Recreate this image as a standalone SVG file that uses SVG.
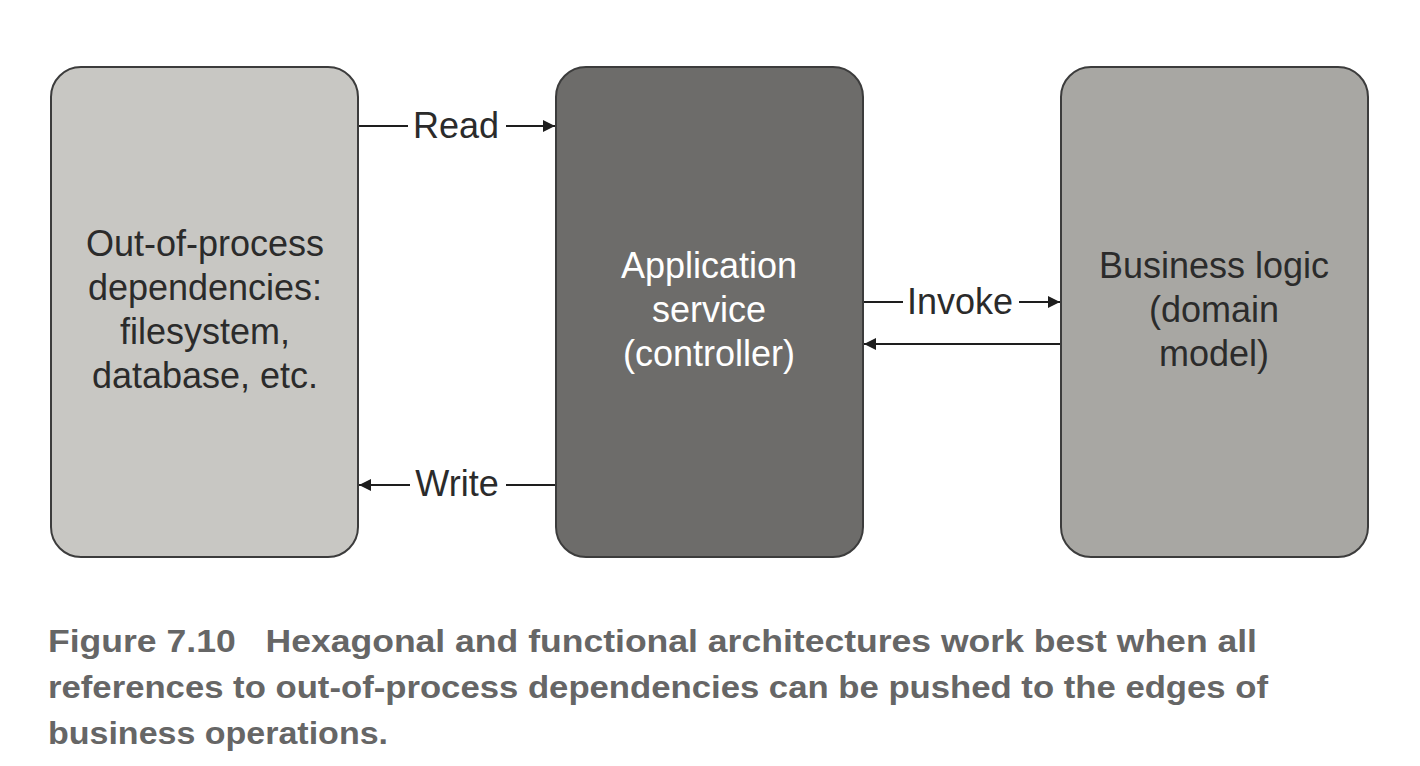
<svg xmlns="http://www.w3.org/2000/svg" width="1420" height="766" viewBox="0 0 1420 766">
<style>
.box{stroke:#3c3c3c;stroke-width:2}
.lbl{font-family:"Liberation Sans",Arial,sans-serif;font-size:36px;fill:#2b2b2b;text-anchor:middle}
.wl{fill:#ffffff}
.edge{stroke:#1e1e1e;stroke-width:2;fill:none}
.cap{font-family:"Liberation Sans",Arial,sans-serif;font-weight:bold;font-size:31px;fill:#666666}
</style>
<defs>
<marker id="ah" viewBox="0 0 10 10" refX="10" refY="5" markerWidth="13" markerHeight="12" markerUnits="userSpaceOnUse" orient="auto">
<path d="M0,0 L10,5 L0,10 z" fill="#1e1e1e"/>
</marker>
</defs>
<rect width="1420" height="766" fill="#ffffff"/>
<g id="node-deps">
<rect class="box" x="51" y="67" width="307" height="490" rx="30" fill="#c8c7c3"/>
<text class="lbl" x="205" y="256">Out-of-process</text>
<text class="lbl" x="205" y="300">dependencies:</text>
<text class="lbl" x="205" y="344">filesystem,</text>
<text class="lbl" x="205" y="388">database, etc.</text>
</g>
<g id="node-app">
<rect class="box" x="556" y="67" width="307" height="490" rx="30" fill="#6d6c6a"/>
<text class="lbl wl" x="709" y="278">Application</text>
<text class="lbl wl" x="709" y="322">service</text>
<text class="lbl wl" x="709" y="366">(controller)</text>
</g>
<g id="node-logic">
<rect class="box" x="1061" y="67" width="307" height="490" rx="30" fill="#a8a7a3"/>
<text class="lbl" x="1214" y="278">Business logic</text>
<text class="lbl" x="1214" y="322">(domain</text>
<text class="lbl" x="1214" y="366">model)</text>
</g>
<g id="connectors">
<line class="edge" x1="359" y1="126" x2="408" y2="126"/>
<line class="edge" x1="506" y1="126" x2="555" y2="126" marker-end="url(#ah)"/>
<text class="lbl" x="456" y="138">Read</text>
<line class="edge" x1="555" y1="485" x2="506" y2="485"/>
<line class="edge" x1="410" y1="485" x2="359" y2="485" marker-end="url(#ah)"/>
<text class="lbl" x="457" y="496">Write</text>
<line class="edge" x1="864" y1="302" x2="903" y2="302"/>
<line class="edge" x1="1019" y1="302" x2="1060" y2="302" marker-end="url(#ah)"/>
<text class="lbl" x="960" y="314">Invoke</text>
<line class="edge" x1="1060" y1="344" x2="864" y2="344" marker-end="url(#ah)"/>
</g>
<g id="caption">
<text class="cap" x="48" y="652" textLength="1209" lengthAdjust="spacingAndGlyphs">Figure 7.10<tspan dx="26">Hexagonal and functional architectures work best when all</tspan></text>
<text class="cap" x="48" y="698" textLength="1220" lengthAdjust="spacingAndGlyphs">references to out-of-process dependencies can be pushed to the edges of</text>
<text class="cap" x="48" y="744" textLength="340" lengthAdjust="spacingAndGlyphs">business operations.</text>
</g>
</svg>
